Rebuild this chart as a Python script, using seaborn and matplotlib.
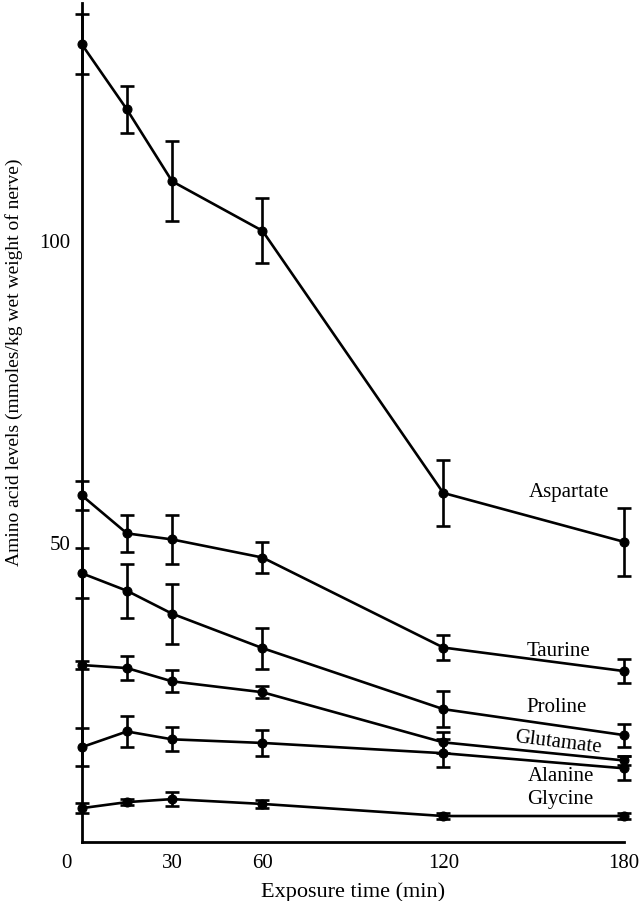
import matplotlib
matplotlib.use("Agg")
import matplotlib.pyplot as plt
import matplotlib.transforms as mtransforms
import seaborn as sns
import pandas as pd
import numpy as np

times = [0, 15, 30, 60, 120, 180]
aspartate = [132.6, 121.8, 109.9, 101.7, 58.3, 50.2]
aspartate_err = [5.0, 3.9, 6.6, 5.4, 5.5, 5.6]
taurine = [57.9, 51.6, 50.6, 47.6, 32.7, 28.8]
taurine_err = [2.4, 3.0, 4.0, 2.5, 2.0, 2.0]
proline = [45.0, 42.1, 38.3, 32.6, 22.5, 18.2]
proline_err = [4.1, 4.5, 5.0, 3.4, 3.0, 1.9]
glutamate = [29.8, 29.3, 27.1, 25.3, 17.0, 14.0]
glutamate_err = [0.7, 2.0, 1.8, 1.0, 1.7, 0.8]
alanine = [16.2, 18.8, 17.5, 16.9, 15.2, 12.7]
alanine_err = [3.1, 2.6, 2.0, 2.1, 2.3, 2.0]
glycine = [6.1, 7.1, 7.6, 6.8, 4.8, 4.8]
glycine_err = [0.8, 0.5, 1.1, 0.6, 0.5, 0.5]

names = ["Aspartate", "Taurine", "Proline", "Glutamate", "Alanine", "Glycine"]
values = [aspartate, taurine, proline, glutamate, alanine, glycine]
errors = [aspartate_err, taurine_err, proline_err, glutamate_err, alanine_err, glycine_err]

label_x = [161.7, 158.1, 157.7, 158.1, 159.1, 158.8]
label_y = [58.4, 32.1, 22.7, 16.9, 11.3, 7.5]
label_rot = [0, 0, 0, -7, 0, 0]

x_ticks = [0, 30, 60, 120, 180]
x_ticklabels = ["0", "30", "60", "120", "180"]
y_ticks = [50, 100]

rows = []
for n, v in zip(names, values):
    for t, val in zip(times, v):
        rows.append({"time": t, "value": val, "acid": n})
df = pd.DataFrame(rows)

sns.set_theme(style="white")
plt.rcParams['font.family'] = ['Liberation Serif', 'DejaVu Serif']

fig = plt.figure(figsize=(6.4, 9.01), dpi=100)
ax = fig.add_axes([0.1277, 0.0655, 0.8473, 0.931])

sns.lineplot(data=df, x="time", y="value", hue="acid", units="acid", estimator=None,
             palette=["black"] * len(names), marker="o", markersize=6.5,
             markeredgecolor="black", linewidth=1.9, legend=False, ax=ax, clip_on=False)

for v, e in zip(values, errors):
    ax.errorbar(times, v, yerr=e, fmt="none", ecolor="black", elinewidth=1.9,
                capsize=5, capthick=1.9, clip_on=False, zorder=3)

for n, lx, ly, r in zip(names, label_x, label_y, label_rot):
    ax.text(lx, ly, n, ha="center", va="center", fontsize=15, rotation=r, color="black")

ax.set_xlim(0, 180)
ax.set_ylim(0.5, 139.4)
ax.set_xticks(x_ticks)
ax.set_xticklabels(x_ticklabels)
ax.set_yticks(y_ticks)
ax.tick_params(direction="in", length=8, width=1.8, colors="black", labelsize=15)
ax.tick_params(axis="x", pad=9)
ax.tick_params(axis="y", pad=8)

# the "0" label in the original sits a little left of the axis corner
lbl0 = ax.get_xticklabels()[0]
lbl0.set_transform(lbl0.get_transform() +
                   mtransforms.ScaledTranslation(-0.15, 0, fig.dpi_scale_trans))

for s in ["top", "right"]:
    ax.spines[s].set_visible(False)
for s in ["left", "bottom"]:
    ax.spines[s].set_color("black")
    ax.spines[s].set_linewidth(2.0)

ax.set_xlabel("Exposure time (min)", fontsize=16, color="black", labelpad=6)
ax.set_ylabel("Amino acid levels (mmoles/kg wet weight of nerve)", fontsize=14, color="black")
ax.yaxis.set_label_coords(-0.108, 0.572)

fig.savefig("out.png", dpi=100)
